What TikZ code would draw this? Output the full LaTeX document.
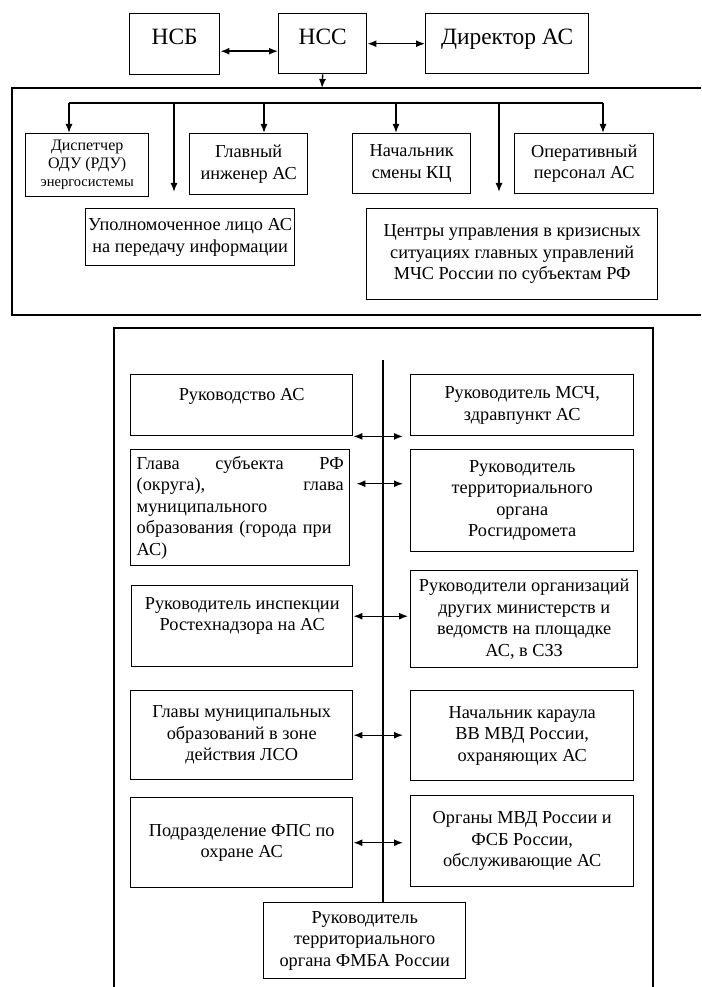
\documentclass[tikz,border=0pt]{standalone}
\usepackage{fontspec}
\setmainfont{Liberation Serif}
\usetikzlibrary{arrows.meta}
\begin{document}
\begin{tikzpicture}[x=1pt,y=-1pt,
  box/.style={draw,line width=1.4pt,anchor=north west,align=center,inner sep=2pt,
    font=\fontsize{18.3}{21.5}\selectfont},
  topbox/.style={box,font=\fontsize{23.4}{27}\selectfont,text height=16pt,text depth=15pt},
  frame/.style={line width=2.8pt},
  link/.style={line width=1.4pt},
  tip/.style={link,-{Latex[length=9pt,width=7pt]}},
  both/.style={link,{Latex[length=9pt,width=7pt]}-{Latex[length=9pt,width=7pt]}}]
\useasboundingbox (0,0) rectangle (701,987);
% top row
\node[topbox,minimum width=90pt,minimum height=61pt] (nsb) at (129,13) {НСБ};
\node[topbox,minimum width=88pt,minimum height=60pt] (nss) at (278,13) {НСС};
\node[topbox,minimum width=163pt,minimum height=60pt] (dir) at (425,13) {Директор АС};
\draw[both] ([yshift=-7pt]nsb.east) -- ([yshift=-7pt]nsb.east -| nss.west);
\draw[both] (nss.east) -- (nss.east -| dir.west);

% upper frame
\draw[frame] (701,88) -- (12,88) -- (12,315) -- (701,315);
\coordinate (hub) at (322,88);
\draw[tip] (nss.south) -- (hub);
\node[box,minimum width=123pt,minimum height=63pt,font=\fontsize{16}{18}\selectfont] (disp) at (25,133)
  {Диспетчер\\ОДУ (РДУ)\\{\fontsize{14.5}{18}\selectfont энергосистемы}};
\node[box,minimum width=118pt,minimum height=61pt] (glav) at (189,133) {Главный\\инженер АС};
\node[box,minimum width=118pt,minimum height=60pt] (nach) at (352,133) {Начальник\\смены КЦ};
\node[box,minimum width=139pt,minimum height=60pt] (oper) at (514,133) {Оперативный\\персонал АС};
\node[box,minimum width=209pt,minimum height=57pt] (upol) at (85,208)
  {Уполномоченное лицо АС\\на передачу информации};
\node[box,minimum width=291pt,minimum height=91pt] (centr) at (366,208)
  {Центры управления в кризисных\\ситуациях главных управлений\\МЧС России по субъектам РФ};
\foreach \n/\x in {1/69,2/174,3/264,4/396,5/499,6/603}
  \coordinate (b\n) at (\x,103);
\coordinate (e2) at (174,192);
\coordinate (e5) at (499,192);
\draw[link] (b1) -- (b6);
\draw[tip] (b1) -- (b1 |- disp.north);
\draw[tip] (b2) -- (e2);
\draw[tip] (b3) -- (b3 |- glav.north);
\draw[tip] (b4) -- (b4 |- nach.north);
\draw[tip] (b5) -- (e5);
\draw[tip] (b6) -- (b6 |- oper.north);

% lower frame
\draw[frame] (114,987) -- (114,328) -- (653,328) -- (653,987);
\node[box,minimum width=222pt,minimum height=61pt,text depth=22pt] (ruk) at (130,374) {Руководство АС};
\node[box,minimum width=219pt,minimum height=116pt,text width=207pt,align=left] (glava) at (130,449)
  {Глава\hfill субъекта\hfill РФ\\(округа),\hfill глава\\муниципального\\образования (города при\\АС)};
\node[box,minimum width=221pt,minimum height=81pt,text depth=24pt] (insp) at (131,585)
  {Руководитель инспекции\\Ростехнадзора на АС};
\node[box,minimum width=222pt,minimum height=89pt] (glavy) at (130,690)
  {Главы муниципальных\\образований в зоне\\действия ЛСО};
\node[box,minimum width=222pt,minimum height=90pt] (fps) at (130,797)
  {Подразделение ФПС по\\охране АС};
\node[box,minimum width=223pt,minimum height=61pt] (msch) at (410,374)
  {Руководитель МСЧ,\\здравпункт АС};
\node[box,minimum width=223pt,minimum height=102pt] (rosg) at (410,449)
  {Руководитель\\территориального\\органа\\Росгидромета};
\node[box,minimum width=227pt,minimum height=97pt] (org) at (410,570)
  {Руководители организаций\\других министерств и\\ведомств на площадке\\АС, в СЗЗ};
\node[box,minimum width=223pt,minimum height=90pt] (karaul) at (410,690)
  {Начальник караула\\ВВ МВД России,\\охраняющих АС};
\node[box,minimum width=223pt,minimum height=91pt] (mvd) at (410,795)
  {Органы МВД России и\\ФСБ России,\\обслуживающие АС};
\node[box,minimum width=202pt,minimum height=76pt] (fmba) at (263,902)
  {Руководитель\\территориального\\органа ФМБА России};
\coordinate (mid) at (383,360);
\draw[link] (mid) -- (mid |- fmba.north);
\draw[both,shorten >=7pt] (ruk.south east) -- (ruk.south east -| msch.west);
\draw[both,shorten <=6pt,shorten >=7pt] ([yshift=24pt]glava.east) -- ([yshift=24pt]glava.east -| rosg.west);
\draw[both,shorten >=2pt] ([yshift=10pt]insp.east) -- ([yshift=10pt]insp.east -| org.west);
\draw[both,shorten >=7pt] (glavy.east) -- (glavy.east -| karaul.west);
\draw[both,shorten >=7pt] (fps.east) -- (fps.east -| mvd.west);
\end{tikzpicture}
\end{document}
